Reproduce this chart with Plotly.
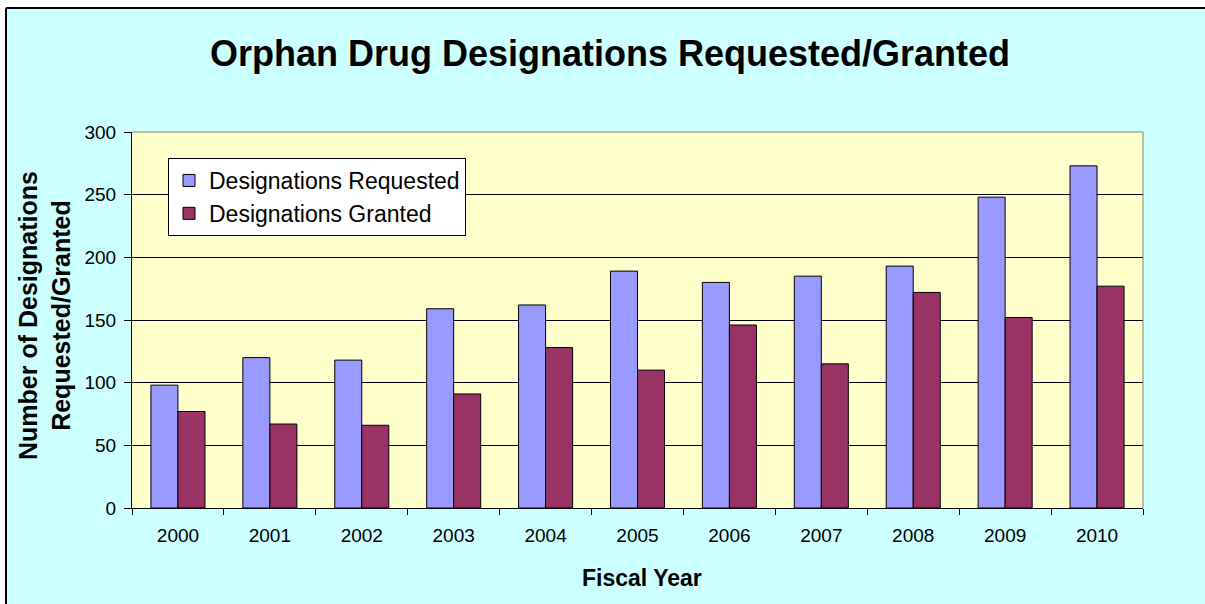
import plotly.graph_objects as go

years = ["2000", "2001", "2002", "2003", "2004", "2005", "2006", "2007", "2008", "2009", "2010"]
requested = [98, 120, 118, 159, 162, 189, 180, 185, 193, 248, 273]
granted = [77, 67, 66, 91, 128, 110, 146, 115, 172, 152, 177]

W, H = 1205, 604
L, R, T, B = 132, 1143, 132, 508  # plot area in pixels
pw, ph = R - L, B - T

def px(x):
    return (x - L) / pw

def py(y):
    return (B - y) / ph

FONT = "Liberation Sans, Arial, sans-serif"

fig = go.Figure()
fig.add_trace(go.Bar(x=years, y=requested, name="Designations Requested",
                     marker=dict(color="#9999FF", line=dict(color="#000000", width=1)),
                     legendgroup="a"))
fig.add_trace(go.Bar(x=years, y=granted, name="Designations Granted",
                     marker=dict(color="#993366", line=dict(color="#000000", width=1)),
                     legendgroup="b"))

fig.update_layout(
    width=W, height=H,
    margin=dict(l=L, r=W - R, t=T, b=H - B, autoexpand=False),
    paper_bgcolor="#CCFFFF",
    plot_bgcolor="#FFFFCC",
    barmode="group", bargap=0.412, bargroupgap=0,
    font=dict(family=FONT, color="#000000"),
    title=dict(text="<b>Orphan Drug Designations Requested/Granted</b>",
               font=dict(size=36, family=FONT, color="#000000"),
               x=610 / W, xref="container", xanchor="center",
               y=1 - 53 / H, yref="container", yanchor="middle"),
    legend=dict(x=px(168), y=py(158), xanchor="left", yanchor="top",
                bgcolor="#FFFFFF", bordercolor="#000000", borderwidth=1,
                font=dict(size=23, family=FONT), tracegroupgap=9,
                traceorder="normal"),
    showlegend=True,
)

fig.update_xaxes(type="category", showline=True, linecolor="#000000", linewidth=1,
                 ticks="outside", tickson="boundaries", ticklen=6, tickcolor="#000000",
                 tickfont=dict(size=19, family=FONT), showgrid=False,
                 ticklabelstandoff=10)
fig.update_yaxes(range=[0, 300], dtick=50, showline=True, linecolor="#000000", linewidth=1,
                 ticks="outside", ticklen=7, tickcolor="#000000",
                 tickfont=dict(size=19, family=FONT),
                 showgrid=True, gridcolor="#000000", gridwidth=1,
                 zeroline=False, ticklabelstandoff=4)

# white margins outside the cropped chart frame, and the frame border (kept inside the page)
fig.add_shape(type="rect", xref="paper", yref="paper",
              x0=px(0), x1=px(W), y0=py(8), y1=py(0),
              fillcolor="#FFFFFF", line=dict(width=0), layer="below")
fig.add_shape(type="rect", xref="paper", yref="paper",
              x0=px(0), x1=px(6), y0=py(H), y1=py(0),
              fillcolor="#FFFFFF", line=dict(width=0), layer="below")
fig.add_shape(type="line", xref="paper", yref="paper",
              x0=px(6), x1=px(W), y0=py(8), y1=py(8),
              line=dict(color="#000000", width=2))
fig.add_shape(type="line", xref="paper", yref="paper",
              x0=px(6), x1=px(6), y0=py(8), y1=py(H),
              line=dict(color="#000000", width=2))
# gray plot-area border (top & right)
fig.add_shape(type="line", xref="paper", yref="paper", x0=0, x1=1, y0=1, y1=1,
              line=dict(color="#808080", width=1))
fig.add_shape(type="line", xref="paper", yref="paper", x0=1, x1=1, y0=0, y1=1,
              line=dict(color="#808080", width=1))

# axis titles
fig.add_annotation(text="<b>Fiscal Year</b>", xref="paper", yref="paper",
                   x=px(642), y=py(578), xanchor="center", yanchor="middle",
                   showarrow=False, font=dict(size=23, family=FONT))
fig.add_annotation(text="<b>Number of Designations<br>Requested/Granted</b>",
                   xref="paper", yref="paper", x=px(44), y=py(316),
                   xanchor="center", yanchor="middle", textangle=-90,
                   showarrow=False, font=dict(size=25, family=FONT))

fig.write_html(
    "out.html",
    config={"displayModeBar": False},
    post_script=("document.body.style.margin='0';"
                 "document.body.style.overflow='hidden';"
                 "document.documentElement.style.overflow='hidden';"),
)
